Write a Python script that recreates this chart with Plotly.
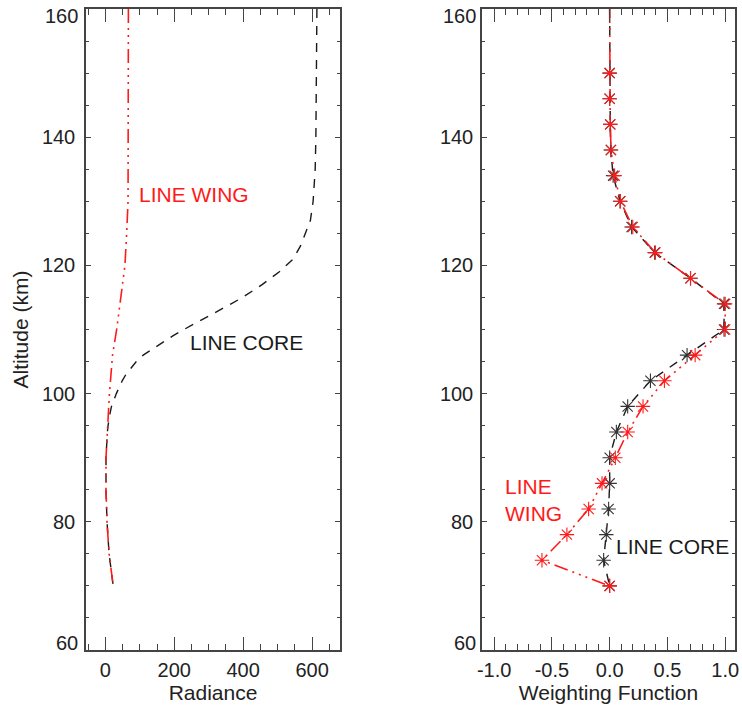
import plotly.graph_objects as go

# ---- Left panel: Radiance profiles ----
alt_core = [160, 150, 140, 135, 130, 127, 125, 123, 121, 119, 117, 116, 115, 114, 113,
            112, 111, 110, 109, 108, 107, 106, 105, 104, 103, 102, 101, 100, 99, 98,
            97, 96, 95, 94, 92, 90, 85, 80, 75, 70]
rad_core = [614, 613, 611, 609, 603, 595, 580, 566, 545, 505, 455, 428, 398, 365, 330,
            299, 262, 228, 196, 168, 138, 110, 90, 74, 60, 49, 40, 32, 25, 18,
            14, 10, 8, 6, 3, 2, 2, 5, 11, 23]

alt_wing = [160, 150, 140, 130, 125, 120, 115, 110, 106, 103, 100, 96, 92, 90, 85, 80, 75, 70]
rad_wing = [67, 67, 67, 66, 62, 57, 45, 33, 21, 16, 12, 8, 4, 2, 2, 5, 11, 23]

# ---- Right panel: Weighting functions ----
alt_wf = [160, 158, 154, 150, 146, 142, 138, 134, 130, 126, 122, 118, 114, 110,
          106, 102, 98, 94, 90, 86, 82, 78, 74, 70]
wf_core = [0.0, 0.0, 0.0, 0.0, 0.0, 0.005, 0.01, 0.03, 0.09, 0.19, 0.39, 0.70, 0.99, 0.99,
           0.67, 0.353, 0.156, 0.058, 0.0, 0.0, -0.009, -0.029, -0.052, 0.0]
wf_wing = [0.0, 0.0, 0.0, 0.0, 0.0, 0.005, 0.012, 0.043, 0.093, 0.20, 0.396, 0.70, 1.0, 1.0,
           0.74, 0.474, 0.289, 0.156, 0.049, -0.066, -0.182, -0.37, -0.586, 0.0]
marker_top = 150  # markers drawn only at and below this altitude

alt_ticks = [60, 80, 100, 120, 140, 160]
rad_ticks = [0, 200, 400, 600]
wf_ticks = [-1.0, -0.5, 0.0, 0.5, 1.0]
wf_ticktext = ["-1.0", "-0.5", "0.0", "0.5", "1.0"]

RED = "#ff1a1a"
BLK = "#1a1a1a"
TXT = "#222222"
AX = "#444444"
FONT = "Liberation Sans, Arial, sans-serif"
core_dash = "9px,8px"
wing_dash = "14px,5px,2px,5px,2px,5px,2px,5px"

fig = go.Figure()

fig.add_trace(go.Scatter(x=rad_core, y=alt_core, mode="lines",
                         line=dict(color=BLK, width=1.4, dash=core_dash),
                         xaxis="x", yaxis="y", showlegend=False))
fig.add_trace(go.Scatter(x=rad_wing, y=alt_wing, mode="lines",
                         line=dict(color=RED, width=1.6, dash=wing_dash),
                         xaxis="x", yaxis="y", showlegend=False))

fig.add_trace(go.Scatter(x=wf_core, y=alt_wf, mode="lines",
                         line=dict(color=BLK, width=1.4, dash=core_dash),
                         xaxis="x2", yaxis="y2", showlegend=False))
fig.add_trace(go.Scatter(x=wf_wing, y=alt_wf, mode="lines",
                         line=dict(color=RED, width=1.6, dash=wing_dash),
                         xaxis="x2", yaxis="y2", showlegend=False))

mk_alt = [a for a in alt_wf if a <= marker_top]
mk_core = [v for a, v in zip(alt_wf, wf_core) if a <= marker_top]
mk_wing = [v for a, v in zip(alt_wf, wf_wing) if a <= marker_top]
fig.add_trace(go.Scatter(x=mk_core, y=mk_alt, mode="markers",
                         marker=dict(symbol="asterisk-open", size=12, color="#333333",
                                     line=dict(color="#333333", width=1.1)),
                         xaxis="x2", yaxis="y2", showlegend=False))
fig.add_trace(go.Scatter(x=mk_wing, y=mk_alt, mode="markers",
                         marker=dict(symbol="asterisk-open", size=12, color=RED,
                                     line=dict(color=RED, width=1.1)),
                         xaxis="x2", yaxis="y2", showlegend=False))

W, H = 742, 706
def px_x(p):
    return p / W
def px_y(p):
    return 1 - p / H

axis_common = dict(showline=True, linecolor=AX, linewidth=1.5, mirror="allticks",
                   ticks="inside", tickcolor=AX, tickwidth=1.3, automargin=False,
                   showgrid=False, zeroline=False,
                   tickfont=dict(family=FONT, size=20, color=TXT))
xa = dict(axis_common, ticklen=13)
ya = dict(axis_common, ticklen=5)
xminor = dict(ticks="inside", ticklen=6, tickcolor=AX, tickwidth=1.3, showgrid=False)
yminor = dict(ticks="inside", ticklen=3, tickcolor=AX, tickwidth=1.3, showgrid=False, dtick=5, tick0=0)

# inner tick labels only; the end labels (60, 160) are nudged inward like the original
inner_text = ["" if v in (alt_ticks[0], alt_ticks[-1]) else str(v) for v in alt_ticks]
title_font = dict(family=FONT, size=21, color=TXT)

fig.update_layout(
    template="none",
    width=W, height=H, margin=dict(l=0, r=0, t=0, b=0, autoexpand=False),
    paper_bgcolor="white", plot_bgcolor="white",
    font=dict(family=FONT, size=20, color=TXT),
    xaxis=dict(xa, domain=[px_x(86), px_x(340)], range=[-56, 681],
               tickvals=rad_ticks, minor=dict(xminor, dtick=50, tick0=0),
               title=dict(text="Radiance", font=title_font, standoff=2),
               anchor="y", ticklabelstandoff=1),
    yaxis=dict(ya, domain=[px_y(650), px_y(9)], range=[60, 160],
               tickvals=alt_ticks, ticktext=inner_text, minor=yminor,
               title=dict(text="Altitude (km)", font=title_font, standoff=8),
               anchor="x", ticklabelstandoff=5),
    xaxis2=dict(xa, domain=[px_x(482), px_x(735)], range=[-1.105, 1.085],
                tickvals=wf_ticks, ticktext=wf_ticktext,
                minor=dict(xminor, dtick=0.1, tick0=0),
                title=dict(text="Weighting Function", font=title_font, standoff=2),
                anchor="y2", ticklabelstandoff=1),
    yaxis2=dict(ya, domain=[px_y(650), px_y(9)], range=[60, 160],
                tickvals=alt_ticks, ticktext=inner_text, minor=yminor,
                anchor="x2", ticklabelstandoff=3),
)

# end labels of the altitude axes, shifted inside the frame
for yref, xref, gap in (("y", "x domain", 8), ("y2", "x2 domain", 6)):
    for v, shift in ((alt_ticks[-1], -7), (alt_ticks[0], 7)):
        fig.add_annotation(x=0, y=v, xref=xref, yref=yref, text=str(v), showarrow=False,
                           xanchor="right", yanchor="middle", xshift=-gap + 2, yshift=shift,
                           font=dict(family=FONT, size=20, color=TXT))

ann_font = lambda c: dict(family=FONT, size=21, color=c)
fig.add_annotation(x=100, y=131, xref="x", yref="y", text="LINE WING", showarrow=False,
                   xanchor="left", yanchor="middle", xshift=-3, font=ann_font(RED))
fig.add_annotation(x=250, y=108, xref="x", yref="y", text="LINE CORE", showarrow=False,
                   xanchor="left", yanchor="middle", xshift=-3, font=ann_font(BLK))
fig.add_annotation(x=-0.895, y=83.4, xref="x2", yref="y2", text="LINE<br>WING", showarrow=False,
                   xanchor="left", yanchor="middle", align="left", xshift=-3, font=ann_font(RED))
fig.add_annotation(x=0.064, y=76.1, xref="x2", yref="y2", text="LINE CORE", showarrow=False,
                   xanchor="left", yanchor="middle", xshift=-3, font=ann_font(BLK))

fig.write_html("out.html")
